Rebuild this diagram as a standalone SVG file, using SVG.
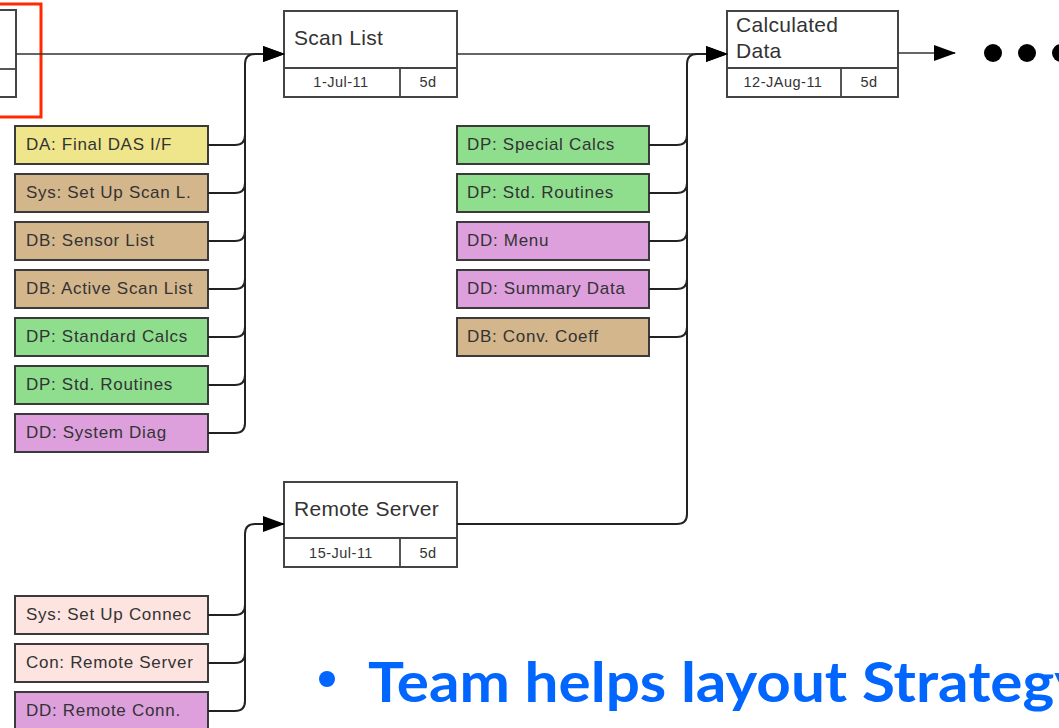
<svg xmlns="http://www.w3.org/2000/svg" width="1059" height="728" viewBox="0 0 1059 728">
<defs>
<style>
.ms{fill:#fff;stroke:#444;stroke-width:2}
.dv{fill:none;stroke:#444;stroke-width:1.8}
.tt{font-family:"Liberation Sans",Arial,sans-serif;font-size:21px;letter-spacing:0.3px;fill:#333}
.dt{font-family:"Liberation Sans",Arial,sans-serif;font-size:14.5px;letter-spacing:0.5px;fill:#333;text-anchor:middle}
.tk rect{stroke:#3a3a3a;stroke-width:2}
.tk text{font-family:"Liberation Sans",Arial,sans-serif;font-size:17px;letter-spacing:0.7px;fill:#333}
.y{fill:#EFE68C}.b{fill:#D4B68C}.g{fill:#8EDE8E}.p{fill:#DDA0DD}.l{fill:#FDE4E0}
.cn{fill:none;stroke:#222;stroke-width:2}
.mn{fill:none;stroke:#333;stroke-width:1.6}
</style>
<marker id="ah" markerWidth="22" markerHeight="16" viewBox="0 0 22 16" refX="21" refY="8" orient="auto" markerUnits="userSpaceOnUse">
<path d="M0,0 L22,8 L0,16 Z" fill="#000"/>
</marker>
</defs>
<rect width="1059" height="728" fill="#fff"/>

<g id="prev-milestone">
<rect class="ms" x="-10" y="10" width="26" height="87"/>
<line class="dv" x1="-10" y1="69" x2="16" y2="69"/>
</g>
<rect id="highlight" x="-5" y="4" width="46" height="113" fill="none" stroke="#FF2A00" stroke-width="3"/>

<g id="scan-list">
<rect class="ms" x="284" y="11" width="173" height="86"/>
<line class="dv" x1="284" y1="68" x2="457" y2="68"/>
<line class="dv" x1="400" y1="68" x2="400" y2="97"/>
<text class="tt" x="294" y="45">Scan List</text>
<text class="dt" x="341" y="87">1-Jul-11</text>
<text class="dt" x="428" y="87">5d</text>
</g>

<g id="calculated-data">
<rect class="ms" x="727" y="11" width="171" height="86"/>
<line class="dv" x1="727" y1="68" x2="898" y2="68"/>
<line class="dv" x1="841" y1="68" x2="841" y2="97"/>
<text class="tt" x="736" y="32">Calculated</text>
<text class="tt" x="736" y="58">Data</text>
<text class="dt" x="783" y="87">12-JAug-11</text>
<text class="dt" x="869" y="87">5d</text>
</g>

<g id="remote-server">
<rect class="ms" x="284" y="482" width="173" height="85"/>
<line class="dv" x1="284" y1="538" x2="457" y2="538"/>
<line class="dv" x1="400" y1="538" x2="400" y2="567"/>
<text class="tt" x="294" y="516">Remote Server</text>
<text class="dt" x="341" y="558">15-Jul-11</text>
<text class="dt" x="428" y="558">5d</text>
</g>

<g id="tasks-scan" class="tk">
<g id="t1"><rect class="y" x="15" y="126" width="193" height="38"/><text x="26" y="150">DA: Final DAS I/F</text></g>
<g id="t2"><rect class="b" x="15" y="174" width="193" height="38"/><text x="26" y="198">Sys: Set Up Scan L.</text></g>
<g id="t3"><rect class="b" x="15" y="222" width="193" height="38"/><text x="26" y="246">DB: Sensor List</text></g>
<g id="t4"><rect class="b" x="15" y="270" width="193" height="38"/><text x="26" y="294">DB: Active Scan List</text></g>
<g id="t5"><rect class="g" x="15" y="318" width="193" height="38"/><text x="26" y="342">DP: Standard Calcs</text></g>
<g id="t6"><rect class="g" x="15" y="366" width="193" height="38"/><text x="26" y="390">DP: Std. Routines</text></g>
<g id="t7"><rect class="p" x="15" y="414" width="193" height="38"/><text x="26" y="438">DD: System Diag</text></g>
</g>

<g id="tasks-calc" class="tk">
<g id="c1"><rect class="g" x="457" y="126" width="192" height="38"/><text x="467" y="150">DP: Special Calcs</text></g>
<g id="c2"><rect class="g" x="457" y="174" width="192" height="38"/><text x="467" y="198">DP: Std. Routines</text></g>
<g id="c3"><rect class="p" x="457" y="222" width="192" height="38"/><text x="467" y="246">DD: Menu</text></g>
<g id="c4"><rect class="p" x="457" y="270" width="192" height="38"/><text x="467" y="294">DD: Summary Data</text></g>
<g id="c5"><rect class="b" x="457" y="318" width="192" height="38"/><text x="467" y="342">DB: Conv. Coeff</text></g>
</g>

<g id="tasks-remote" class="tk">
<g id="r1"><rect class="l" x="15" y="596" width="193" height="38"/><text x="26" y="620">Sys: Set Up Connec</text></g>
<g id="r2"><rect class="l" x="15" y="644" width="193" height="38"/><text x="26" y="668">Con: Remote Server</text></g>
<g id="r3"><rect class="p" x="15" y="692" width="193" height="38"/><text x="26" y="716">DD: Remote Conn.</text></g>
</g>

<g id="connectors">
<path class="mn" d="M16,54 H284" marker-end="url(#ah)"/>
<path class="mn" d="M457,54 H727" marker-end="url(#ah)"/>
<path class="mn" d="M898,53 H955" marker-end="url(#ah)"/>
<path class="cn" d="M208,433 H235 Q245,433 245,423 V64 Q245,54 255,54 H284" marker-end="url(#ah)"/>
<path class="cn" d="M208,145 H235 Q245,145 245,135"/>
<path class="cn" d="M208,193 H235 Q245,193 245,183"/>
<path class="cn" d="M208,241 H235 Q245,241 245,231"/>
<path class="cn" d="M208,289 H235 Q245,289 245,279"/>
<path class="cn" d="M208,337 H235 Q245,337 245,327"/>
<path class="cn" d="M208,385 H235 Q245,385 245,375"/>
<path class="cn" d="M457,524 H677 Q687,524 687,514 V64 Q687,54 697,54 H727" marker-end="url(#ah)"/>
<path class="cn" d="M649,145 H677 Q687,145 687,135"/>
<path class="cn" d="M649,193 H677 Q687,193 687,183"/>
<path class="cn" d="M649,241 H677 Q687,241 687,231"/>
<path class="cn" d="M649,289 H677 Q687,289 687,279"/>
<path class="cn" d="M649,337 H677 Q687,337 687,327"/>
<path class="cn" d="M208,711 H235 Q245,711 245,701 V534 Q245,524 255,524 H284" marker-end="url(#ah)"/>
<path class="cn" d="M208,615 H235 Q245,615 245,605"/>
<path class="cn" d="M208,663 H235 Q245,663 245,653"/>
</g>

<g id="ellipsis" fill="#000">
<circle cx="993" cy="53" r="9"/>
<circle cx="1027" cy="53" r="9"/>
<circle cx="1061" cy="53" r="9"/>
</g>

<g id="caption">
<circle cx="327" cy="679" r="8" fill="#0066FF"/>
<text x="368" y="702" textLength="718" lengthAdjust="spacingAndGlyphs" font-family="Lato,'Open Sans',sans-serif" font-weight="bold" font-size="56" fill="#0066FF">Team helps layout Strategy</text>
</g>
</svg>
